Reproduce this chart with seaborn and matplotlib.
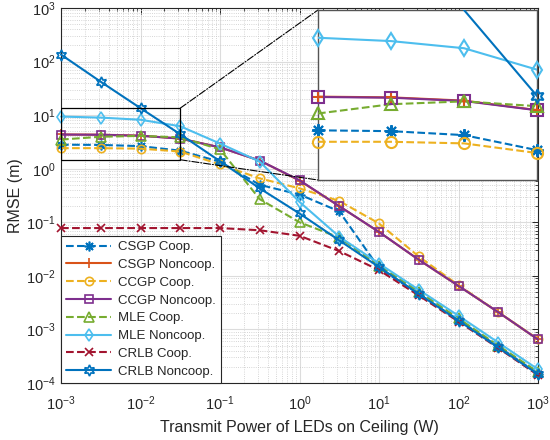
import numpy as np
import matplotlib
matplotlib.use("Agg")
import matplotlib.pyplot as plt
import seaborn as sns
from matplotlib.patches import Rectangle, ConnectionPatch
from matplotlib.ticker import LogLocator, NullFormatter, FixedLocator

# ---------------- data ----------------
power = [0.001, 0.00316, 0.01, 0.0316, 0.1, 0.316, 1.0, 3.16, 10.0, 31.6, 100.0, 316.0, 1000.0]

csgp_coop = [2.81, 2.78, 2.64, 2.17, 1.35, 0.50, 0.33, 0.16, 0.014, 0.0046, 0.0015, 0.00048, 0.00015]
csgp_noncoop = [4.36, 4.32, 4.14, 3.66, 2.5, 1.42, 0.60, 0.20, 0.066, 0.020, 0.0065, 0.0021, 0.00065]
ccgp_coop = [2.42, 2.42, 2.37, 2.09, 1.2, 0.66, 0.43, 0.25, 0.095, 0.023, 0.0067, 0.0021, 0.00066]
ccgp_noncoop = [4.34, 4.30, 4.12, 3.65, 2.5, 1.42, 0.61, 0.20, 0.066, 0.020, 0.0065, 0.0021, 0.00065]
mle_coop = [3.5, 3.95, 4.1, 3.85, 2.3, 0.27, 0.10, 0.052, 0.0155, 0.0051, 0.0016, 0.00050, 0.00016]
mle_noncoop = [9.4, 9.0, 8.2, 6.2, 2.95, 1.36, 0.24, 0.054, 0.017, 0.0055, 0.0018, 0.00057, 0.00018]
crlb_coop = [0.078, 0.078, 0.078, 0.078, 0.078, 0.071, 0.056, 0.029, 0.0128, 0.0043, 0.0014, 0.00045, 0.00014]
crlb_noncoop = [135, 42, 13.5, 4.4, 1.38, 0.43, 0.146, 0.046, 0.0146, 0.0046, 0.00146, 0.00046, 0.000146]

labels = ["CSGP Coop.", "CSGP Noncoop.", "CCGP Coop.", "CCGP Noncoop.",
          "MLE Coop.", "MLE Noncoop.", "CRLB Coop.", "CRLB Noncoop."]
series = [csgp_coop, csgp_noncoop, ccgp_coop, ccgp_noncoop,
          mle_coop, mle_noncoop, crlb_coop, crlb_noncoop]
colors = ["#0072BD", "#D95319", "#EDB120", "#7E2F8E",
          "#77AC30", "#4DBEEE", "#A2142F", "#0072BD"]
markers = [(8, 2, 0), "+", "o", "s", "^", "d", "x", (6, 1, 0)]
styles = ["--", "-", "--", "-", "--", "-", "--", "-"]
msizes = [7, 7, 6, 6, 7, 6.5, 6, 8]

x_ticks = [1e-3, 1e-2, 1e-1, 1e0, 1e1, 1e2, 1e3]
y_ticks = [1e-4, 1e-3, 1e-2, 1e-1, 1e0, 1e1, 1e2, 1e3]

x_label = "Transmit Power of LEDs on Ceiling (W)"
y_label = "RMSE (m)"

# zoom window
zx = (0.001, 0.0316)
zy = (1.47, 13.5)

# ---------------- style ----------------
sns.set_style("white")
plt.rcParams['font.family'] = ['Liberation Sans', 'DejaVu Sans']
plt.rcParams['mathtext.fontset'] = 'custom'
plt.rcParams['mathtext.rm'] = 'Liberation Sans'
plt.rcParams['mathtext.it'] = 'Liberation Sans:italic'

fig = plt.figure(figsize=(5.5, 4.4), dpi=100)
ax = fig.add_axes([61 / 550, 1 - 383 / 440, (538 - 61) / 550, (383 - 8) / 440])

handles = []
for lab, ys, c, m, ls, ms in zip(labels, series, colors, markers, styles, msizes):
    sns.lineplot(x=power, y=ys, ax=ax, color=c, marker=m, linestyle=ls, lw=1.5,
                 markersize=ms, markerfacecolor='none', markeredgecolor=c,
                 markeredgewidth=1.2, clip_on=False, zorder=3)
    line = ax.lines[-1]
    line.set_label(lab)
    handles.append(line)

ax.set_xscale('log')
ax.set_yscale('log')
ax.set_xlim(x_ticks[0], x_ticks[-1])
ax.set_ylim(y_ticks[0], y_ticks[-1])
ax.xaxis.set_major_locator(FixedLocator(x_ticks))
ax.yaxis.set_major_locator(FixedLocator(y_ticks))
ax.xaxis.set_minor_locator(LogLocator(base=10, subs=np.arange(2, 10), numticks=100))
ax.yaxis.set_minor_locator(LogLocator(base=10, subs=np.arange(2, 10), numticks=100))
ax.xaxis.set_minor_formatter(NullFormatter())
ax.yaxis.set_minor_formatter(NullFormatter())
ax.grid(True, which='major', color='#dcdcdc', lw=0.8, ls='-')
ax.grid(True, which='minor', color='#c8c8c8', lw=0.6, ls=':')
ax.set_axisbelow(True)
ax.tick_params(which='both', direction='in', top=True, right=True, colors='#262626',
               labelsize=10.5)
ax.tick_params(which='major', length=4, width=0.7)
ax.tick_params(which='minor', length=2, width=0.6)
ax.tick_params(axis='x', which='major', pad=8)
ax.tick_params(axis='y', which='major', pad=4)
for s in ax.spines.values():
    s.set_color('#262626')
    s.set_linewidth(0.8)
ax.set_xlabel(x_label, fontsize=11.5, color='#262626', labelpad=5)
ax.set_ylabel(y_label, fontsize=11.5, color='#262626', labelpad=2)

leg = ax.legend(handles=handles, loc='lower left', bbox_to_anchor=(0, 0),
                borderaxespad=0, fontsize=9.5, handlelength=3.4, labelspacing=0.42,
                fancybox=False, edgecolor='#262626', framealpha=1, borderpad=0.4,
                handletextpad=0.5)
leg.get_frame().set_linewidth(0.8)
leg.set_zorder(10)

# zoom rectangle on main axes
rect = Rectangle((zx[0], zy[0]), zx[1] - zx[0], zy[1] - zy[0], fill=False,
                 edgecolor='black', lw=0.9, zorder=5)
ax.add_patch(rect)

# inset
axin = fig.add_axes([318 / 550, 1 - 180 / 440, (537 - 318) / 550, (180 - 10) / 440])
axin.set_facecolor('white')
for lab, ys, c, m, ls, ms in zip(labels, series, colors, markers, styles, msizes):
    sns.lineplot(x=power, y=ys, ax=axin, color=c, linestyle=ls, lw=1.5, zorder=3)
    xs = [p for p, v in zip(power, ys) if zx[0] <= p <= zx[1] * 1.01 and zy[0] < v < zy[1]]
    vs = [v for p, v in zip(power, ys) if zx[0] <= p <= zx[1] * 1.01 and zy[0] < v < zy[1]]
    if xs:
        sns.lineplot(x=xs, y=vs, ax=axin, color=c, marker=m, linestyle='none',
                     markersize=ms + 2, markerfacecolor='none', markeredgecolor=c,
                     markeredgewidth=1.5, clip_on=False, zorder=4)
axin.set_xscale('log')
axin.set_yscale('log')
axin.set_xlim(*zx)
axin.set_ylim(*zy)
axin.xaxis.set_major_locator(FixedLocator([]))
axin.yaxis.set_major_locator(FixedLocator([]))
axin.xaxis.set_minor_locator(FixedLocator([]))
axin.yaxis.set_minor_locator(FixedLocator([]))
for s in axin.spines.values():
    s.set_color('#555555')
    s.set_linewidth(1.0)
axin.set_zorder(8)

for yc, ycorner in [(zy[1], 1), (zy[0], 0)]:
    con = ConnectionPatch(xyA=(zx[1], yc), coordsA=ax.transData,
                          xyB=(0, ycorner), coordsB=axin.transAxes,
                          color='black', lw=0.8, ls='-.')
    fig.add_artist(con)

fig.savefig("out.png", dpi=100)
